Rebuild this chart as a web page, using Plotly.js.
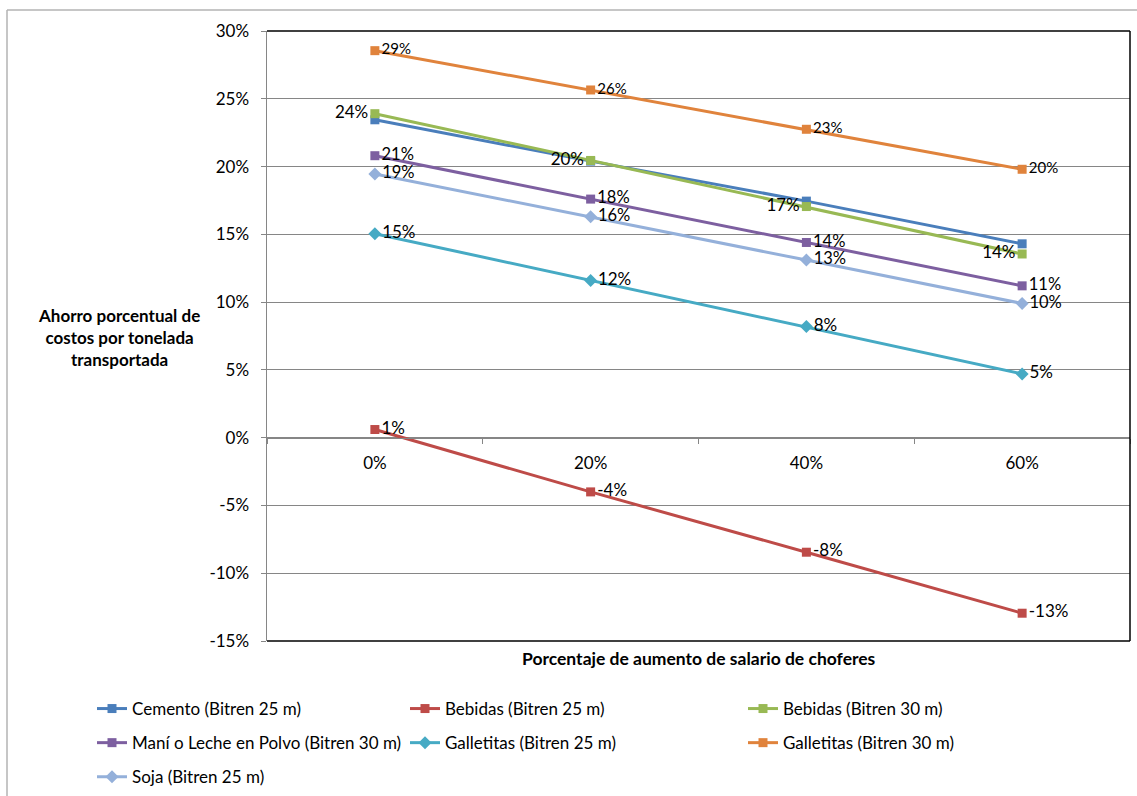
<!DOCTYPE html>
<html>
<head>
<meta charset="utf-8">
<script src="https://cdn.plot.ly/plotly-3.0.1.min.js"></script>
<style>html,body{margin:0;padding:0;background:#fff;}#chart{width:1137px;height:796px;}</style>
</head>
<body>
<div id="chart"></div>
<script>
const categories = ['0%', '20%', '40%', '60%'];
const cemento25 = [23.45, 20.4, 17.45, 14.3];
const bebidas25 = [0.6, -4.0, -8.45, -12.95];
const bebidas30 = [23.9, 20.45, 17.05, 13.55];
const maniLeche30 = [20.8, 17.6, 14.4, 11.2];
const galletitas25 = [15.05, 11.6, 8.2, 4.7];
const galletitas30 = [28.55, 25.65, 22.75, 19.8];
const soja25 = [19.45, 16.3, 13.1, 9.9];
const yTickVals = [-15, -10, -5, 0, 5, 10, 15, 20, 25, 30];
const yTickText = ['-15%', '-10%', '-5%', '0%', '5%', '10%', '15%', '20%', '25%', '30%'];

const FONT = 'Lato, "Open Sans", sans-serif';
const lbl = arr => arr.map(v => Math.round(v) + '%');

function series(name, y, color, symbol, msize, opts) {
  const t = {
    type: 'scatter', mode: opts.labels ? 'lines+markers+text' : 'lines+markers',
    name: name, x: categories, y: y, legendgroup: name,
    line: {color: color, width: 3},
    marker: {color: color, symbol: symbol, size: msize},
    legend: opts.legend, cliponaxis: false, hoverinfo: 'skip'
  };
  if (opts.labels) {
    t.text = lbl(y);
    t.textposition = opts.pos || 'middle right';
    t.textfont = {family: FONT, size: opts.fs || 16.5, color: '#000'};
  }
  return t;
}

const data = [
  series('Cemento (Bitren 25 m)', cemento25, '#4a7ebb', 'square', 9, {legend: 'legend'}),
  series('Bebidas (Bitren 25 m)', bebidas25, '#be4b48', 'square', 9, {legend: 'legend2', labels: true, fs: 17}),
  series('Bebidas (Bitren 30 m)', bebidas30, '#98b954', 'square', 9, {legend: 'legend3', labels: true, pos: 'middle left', fs: 17}),
  series('Maní o Leche en Polvo (Bitren 30 m)', maniLeche30, '#7d5fa0', 'square', 9, {legend: 'legend', labels: true}),
  series('Galletitas (Bitren 25 m)', galletitas25, '#46aac4', 'diamond', 10, {legend: 'legend2', labels: true, fs: 17}),
  series('Galletitas (Bitren 30 m)', galletitas30, '#e0833c', 'square', 9, {legend: 'legend3', labels: true, fs: 15}),
  series('Soja (Bitren 25 m)', soja25, '#94b0da', 'diamond', 10, {legend: 'legend', labels: true})
];

const L = 267, R = 1130, T = 31, B = 641, W = 1137, H = 796;
const px = x => (x - L) / (R - L);
const py = y => (B - y) / (B - T);

const legendBase = {
  orientation: 'v', xanchor: 'left', yanchor: 'top',
  font: {family: FONT, size: 17, color: '#000'},
  bgcolor: 'rgba(0,0,0,0)', traceorder: 'grouped', tracegroupgap: 9,
  itemclick: false
};

const layout = {
  width: W, height: H,
  margin: {l: L, r: W - R, t: T, b: H - B, pad: 0, autoexpand: false},
  paper_bgcolor: '#fff', plot_bgcolor: '#fff',
  font: {family: FONT, size: 17, color: '#000'},
  showlegend: true,
  xaxis: {
    type: 'category', range: [-0.5, 3.5], anchor: 'free', position: 1 / 3,
    showline: true, linecolor: '#868686', linewidth: 1.5,
    ticks: 'outside', tickson: 'boundaries', ticklen: 5, tickcolor: '#868686', tickwidth: 1,
    showgrid: false, zeroline: false, ticklabelstandoff: 9,
    tickfont: {family: FONT, size: 17, color: '#000'}
  },
  yaxis: {
    range: [-15, 30], tickvals: yTickVals, ticktext: yTickText,
    showline: true, linecolor: '#868686', linewidth: 1.5,
    ticks: 'outside', ticklen: 5, tickcolor: '#868686', tickwidth: 1,
    showgrid: true, gridcolor: '#868686', gridwidth: 1, zeroline: false,
    ticklabelstandoff: 8,
    tickfont: {family: FONT, size: 17, color: '#000'}
  },
  legend: Object.assign({}, legendBase, {x: px(92), y: py(691)}),
  legend2: Object.assign({}, legendBase, {x: px(405), y: py(691)}),
  legend3: Object.assign({}, legendBase, {x: px(743), y: py(691)}),
  annotations: [
    {xref: 'paper', yref: 'paper', x: px(119), y: py(337), xanchor: 'center', yanchor: 'middle',
     text: '<b>Ahorro porcentual de<br>costos por tonelada<br>transportada</b>', showarrow: false,
     font: {family: FONT, size: 17, color: '#000'}, align: 'center'},
    {xref: 'paper', yref: 'paper', x: 0.5, y: py(658), xanchor: 'center', yanchor: 'middle',
     text: '<b>Porcentaje de aumento de salario de choferes</b>', showarrow: false,
     font: {family: FONT, size: 17.5, color: '#000'}}
  ],
  shapes: [
    {type: 'line', xref: 'paper', yref: 'paper', x0: 0, x1: 1, y0: 1, y1: 1, line: {color: '#000', width: 1.5}, layer: 'above'},
    {type: 'line', xref: 'paper', yref: 'paper', x0: 1, x1: 1, y0: 0, y1: 1, line: {color: '#000', width: 1.5}, layer: 'above'},
    {type: 'line', xref: 'paper', yref: 'paper', x0: 0, x1: 1, y0: 0, y1: 0, line: {color: '#000', width: 1.5}, layer: 'above'},
    {type: 'line', xref: 'paper', yref: 'paper', x0: px(7), x1: px(1137), y0: py(10), y1: py(10), line: {color: '#b3b3b3', width: 1.5}, layer: 'above'},
    {type: 'line', xref: 'paper', yref: 'paper', x0: px(7), x1: px(7), y0: py(10), y1: py(796), line: {color: '#b3b3b3', width: 1.5}, layer: 'above'}
  ]
};

Plotly.newPlot('chart', data, layout, {displayModeBar: false, staticPlot: true});
</script>
</body>
</html>
